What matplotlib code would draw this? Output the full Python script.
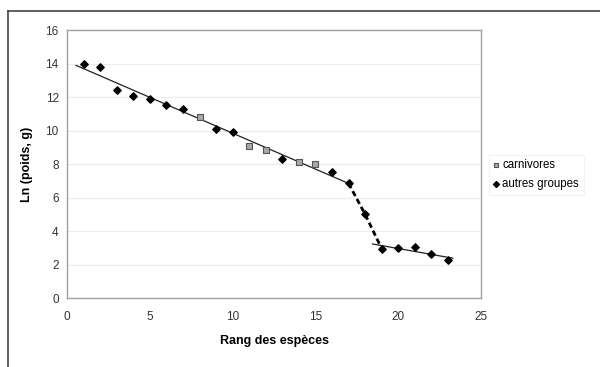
import matplotlib
matplotlib.use("Agg")
import matplotlib.pyplot as plt
import numpy as np
from matplotlib.lines import Line2D

# species rank -> ln(weight, g)
carn_rank = [8, 11, 12, 14, 15]
carn_lnw = [10.8, 9.1, 8.85, 8.15, 8.0]

other_rank = [1, 2, 3, 4, 5, 6, 7, 9, 10, 13, 16, 17, 18, 19, 20, 21, 22, 23]
other_lnw = [14.0, 13.8, 12.45, 12.05, 11.9, 11.5, 11.3, 10.1, 9.9, 8.3, 7.55,
             6.85, 5.0, 2.95, 3.0, 3.05, 2.65, 2.25]

# break between the two regimes
break_rank = [17, 18, 19]
break_lnw = [6.85, 5.0, 2.95]

plt.rcParams["font.family"] = ["Liberation Sans", "DejaVu Sans"]

fig = plt.figure(figsize=(6, 3.67), dpi=100)
ax = fig.add_axes([0.1117, 0.188, 0.69, 0.73])

# regression lines on each regime
rank = np.array(carn_rank + other_rank, dtype=float)
lnw = np.array(carn_lnw + other_lnw, dtype=float)
m1 = rank <= 17
p1 = np.polyfit(rank[m1], lnw[m1], 1)
x1 = np.array([0.55, 17.2])
ax.plot(x1, np.polyval(p1, x1), color="#222222", lw=0.9, zorder=2)
m2 = rank >= 19
p2 = np.polyfit(rank[m2], lnw[m2], 1)
x2 = np.array([18.45, 23.3])
ax.plot(x2, np.polyval(p2, x2), color="#222222", lw=0.9, zorder=2)

ax.plot(break_rank, break_lnw, color="black", lw=2.0, ls=(0, (2, 1.2)), zorder=2)

ax.scatter(carn_rank, carn_lnw, marker="s", s=18, color="#a8a8a8",
           edgecolors="#555555", linewidths=0.8, zorder=3, label="carnivores")
ax.scatter(other_rank, other_lnw, marker="D", s=14, color="black",
           zorder=3, label="autres groupes")

ax.set_xlim(0, 25)
ax.set_ylim(0, 16)
ax.set_xticks(range(0, 26, 5))
ax.set_yticks(range(0, 17, 2))
ax.yaxis.grid(True, color="#ececec", lw=0.8)
ax.set_axisbelow(True)
for s in ax.spines.values():
    s.set_color("#a0a0a0")
    s.set_linewidth(1.0)
ax.tick_params(axis="both", length=0, labelsize=8.5, colors="#333333", pad=6)
ax.tick_params(axis="x", pad=9)

ax.set_xlabel("Rang des espèces", fontsize=9, fontweight="bold", labelpad=9)
ax.set_ylabel("Ln (poids, g)", fontsize=9, fontweight="bold", labelpad=9)

leg = ax.legend(loc="center left", bbox_to_anchor=(1.01, 0.46), fontsize=8.3,
                frameon=True, fancybox=False, handlelength=0.5,
                handletextpad=0.3, borderpad=0.4, labelspacing=0.6,
                borderaxespad=0.3, markerscale=0.8)
leg.get_frame().set_edgecolor("#f0f0f0")
leg.get_frame().set_linewidth(0.8)

# outer chart frame (left and top edges visible)
fig.add_artist(Line2D([8 / 600, 8 / 600], [0, 1 - 11 / 367],
                      transform=fig.transFigure, color="#444444", lw=1.2))
fig.add_artist(Line2D([8 / 600, 1], [1 - 11 / 367, 1 - 11 / 367],
                      transform=fig.transFigure, color="#444444", lw=1.2))

fig.savefig("out.png", dpi=100)
